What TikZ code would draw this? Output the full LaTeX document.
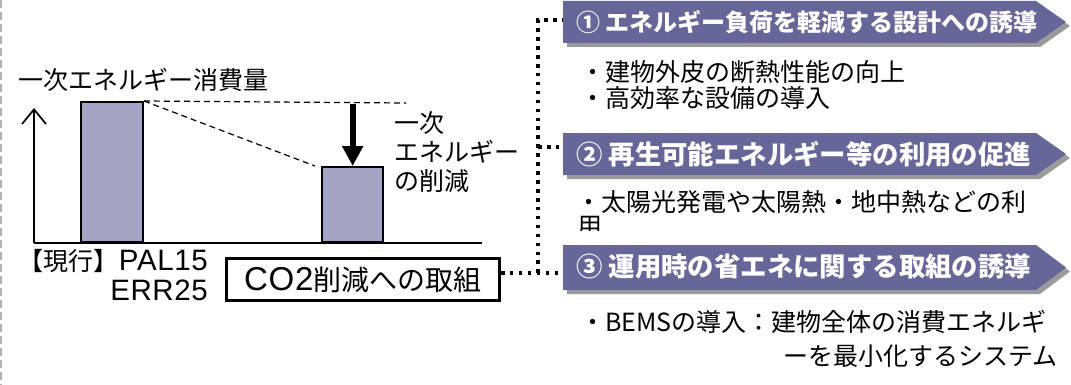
\documentclass[tikz,border=0pt]{standalone}
\usepackage{fontspec}
\setmainfont{Noto Sans CJK JP}
\newfontfamily\lat{Liberation Sans}[Scale=1.18,LetterSpace=2]
\usetikzlibrary{arrows.meta}
\definecolor{barfill}{HTML}{A4A4C4}
\definecolor{bannerc}{HTML}{666699}
\definecolor{shadowc}{HTML}{9A9A9A}
\definecolor{framec}{HTML}{B4B4B4}
\newcommand\mybanner[3]{%
  \fill[shadowc] (567,#1+4) -- (1040,#1+4) -- (1070,{(#1+#2)/2+4}) -- (1040,#2+4) -- (567,#2+4) -- cycle;
  \fill[bannerc] (563,#1) -- (1036,#1) -- (1066,{(#1+#2)/2}) -- (1036,#2) -- (563,#2) -- cycle;
  \coordinate (#3) at (563,{(#1+#2)/2});
}
\begin{document}
\begin{tikzpicture}[x=0.75pt,y=-0.75pt,
  txt/.style={font=\fontsize{18.75pt}{21.5pt}\selectfont, inner sep=0pt},
  bar/.style={draw=black, line width=1.5pt, fill=barfill, inner sep=0pt, anchor=south west},
  guide/.style={line width=0.9pt, dash pattern=on 4.5pt off 3pt},
  link/.style={line width=2.7pt, dash pattern=on 2.7pt off 4pt},
  bannertxt/.style={text=white, inner sep=0pt, anchor=west}
]
\useasboundingbox (0,0) rectangle (1071,385);
% left frame
\draw[framec, line width=1.2pt, dash pattern=on 6pt off 3pt] (1,0) -- (1,385);

% chart
\node[txt, anchor=west] (title) at (18,80) {一次エネルギー消費量};
\coordinate (o) at (34,243);
\coordinate (ytop) at (34,108);
\coordinate (xend) at (482,243);
\draw[line width=1.5pt, -{Straight Barb[length=11pt,width=18pt,line width=1.3pt]}] (o) -- (ytop);
\draw[line width=1.5pt] (o) -- (xend);
\node[bar, minimum width=46.5pt, minimum height=105pt] (b1) at (80,243) {};
\node[bar, minimum width=46pt, minimum height=56.25pt] (b2) at (321,243) {};
\coordinate (dh) at (406,103);
\draw[guide] (b1.north east) -- (dh);
\draw[guide] (b1.north east) -- ([xshift=-4.5pt]b2.north west);
\coordinate (arrtop) at (351,104);
\draw[line width=4.5pt, -{Triangle[length=15pt,width=15pt]}] (b2.north |- arrtop) -- (b2.north);
\node[txt, anchor=west, align=left] (red) at (394,152) {一次\\エネルギー\\の削減};

\node[txt, anchor=east] (cur) at (208,261) {【現行】{\lat PAL15}};
\node[txt, anchor=east] (err) at (208,290) {\lat ERR25};
\node[draw, line width=2.25pt, minimum width=205pt, minimum height=31.5pt, inner sep=0pt,
      font=\fontsize{21pt}{24pt}\selectfont] (co2) at (362.75,279.5) {{\lat CO2}削減への取組};

% banners
\mybanner{1}{43}{ban1}
\mybanner{133}{175}{ban2}
\mybanner{245}{290}{ban3}
\node[bannertxt, font=\bfseries\fontsize{18pt}{20pt}\selectfont] (t1) at (576,22) {① エネルギー負荷を軽減する設計への誘導};
\node[bannertxt, font=\bfseries\fontsize{19.8pt}{22pt}\selectfont] (t2) at (576,154) {② 再生可能エネルギー等の利用の促進};
\node[bannertxt, font=\bfseries\fontsize{19.8pt}{22pt}\selectfont] (t3) at (576,267) {③ 運用時の省エネに関する取組の誘導};

% body texts
\node[txt, anchor=west] (l1) at (580,72) {・建物外皮の断熱性能の向上};
\node[txt, anchor=west] (l2) at (580,98) {・高効率な設備の導入};
\node[txt, anchor=west] (l3) at (576,202) {・太陽光発電や太陽熱・地中熱などの利};
\begin{scope}
  \clip (560,210) rectangle (640,230);
  \node[txt, anchor=west] (l3b) at (577,227) {用};
\end{scope}
\node[txt, anchor=west] (l4) at (580,322) {・BEMSの導入：建物全体の消費エネルギ};
\node[txt, anchor=east] (l5) at (1058,356) {ーを最小化するシステム};

% dotted connectors
\coordinate (j1) at (538,20);
\coordinate (j2) at (538,147);
\coordinate (j3) at (538,273);
\draw[link] (co2.east |- j3) -- (ban3 |- j3);
\draw[link] (j3) -- (j1) -- (ban1 |- j1);
\draw[link] (j2) -- (ban2 |- j2);
\end{tikzpicture}
\end{document}
